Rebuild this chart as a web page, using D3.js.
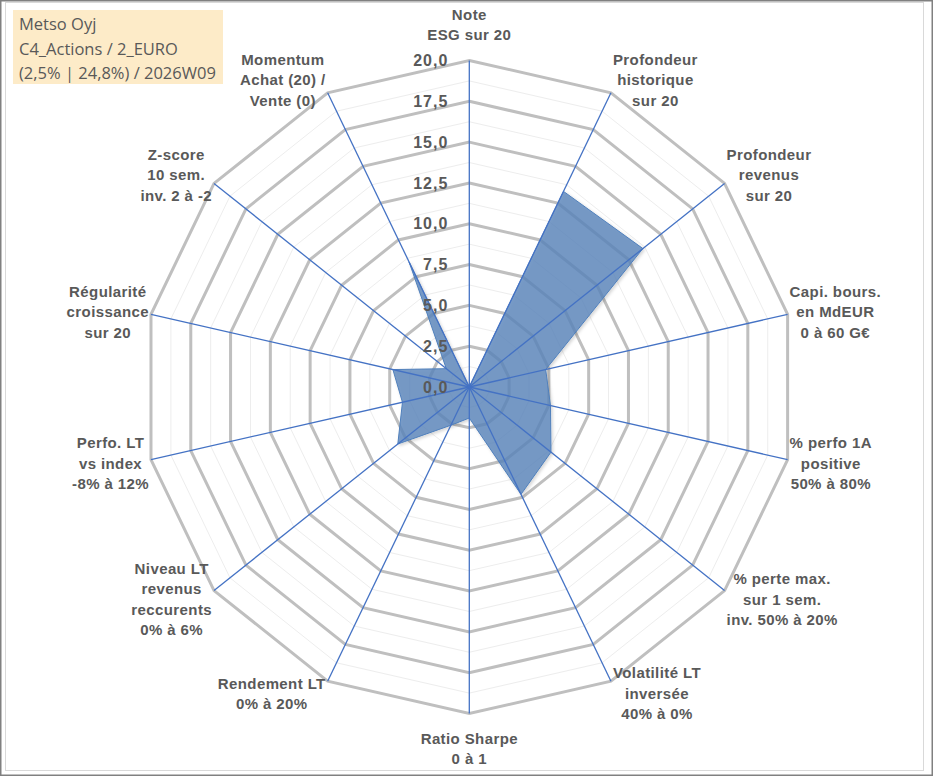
<!DOCTYPE html>
<html>
<head>
<meta charset="utf-8">
<script src="https://cdn.jsdelivr.net/npm/d3@7"></script>
<style>
  body { margin: 0; background: #fff; }
  svg { display: block; }
</style>
</head>
<body>
<svg id="chart" width="933" height="776"></svg>
<script>
// axis labels, clockwise from the top
const categories = [
    ["Note", "ESG sur 20"],
    ["Profondeur", "historique", "sur 20"],
    ["Profondeur", "revenus", "sur 20"],
    ["Capi. bours.", "en MdEUR", "0 à 60 G€"],
    ["% perfo 1A", "positive", "50% à 80%"],
    ["% perte max.", "sur 1 sem.", "inv. 50% à 20%"],
    ["Volatilité LT", "inversée", "40% à 0%"],
    ["Ratio Sharpe", "0 à 1"],
    ["Rendement LT", "0% à 20%"],
    ["Niveau LT", "revenus", "reccurents", "0% à 6%"],
    ["Perfo. LT", "vs index", "-8% à 12%"],
    ["Régularité", "croissance", "sur 20"],
    ["Z-score", "10 sem.", "inv. 2 à -2"],
    ["Momentum", "Achat (20) /", "Vente (0)"]
];
// scores (0 - 20)
const values = [0, 13.3, 13.6, 4.8, 5.1, 6.4, 7.3, 1.9, 2.6, 5.6, 4.2, 4.8, 1.8, 8.5];
const tickValues = [0, 2.5, 5, 7.5, 10, 12.5, 15, 17.5, 20];
const minorValues = [1.25, 3.75, 6.25, 8.75, 11.25, 13.75, 16.25, 18.75];
const titleLines = ["Metso Oyj", "C4_Actions / 2_EURO", "(2,5% | 24,8%) / 2026W09"];

const svg = d3.select("#chart");
const width = +svg.attr("width");
const height = +svg.attr("height");
const cx = 469.3, cy = 387, R = 326.5;
const n = categories.length;

const r = d3.scaleLinear().domain([0, 20]).range([0, R]);
const angle = i => i * 2 * Math.PI / n;
const fmt = v => d3.format(".1f")(v).replace(".", ",");

// frame
svg.append("rect").attr("x", 0.75).attr("y", 0.75)
    .attr("width", width - 1.5).attr("height", height - 1.5)
    .attr("fill", "#fff").attr("stroke", "#808080").attr("stroke-width", 1.5);
svg.append("rect").attr("x", 5.5).attr("y", 2.5)
    .attr("width", 918).attr("height", 768)
    .attr("fill", "none").attr("stroke", "#d9d9d9").attr("stroke-width", 1);

const defs = svg.append("defs");
defs.append("filter").attr("id", "shadow")
    .attr("x", "-10%").attr("y", "-10%").attr("width", "130%").attr("height", "130%")
  .append("feDropShadow")
    .attr("dx", 1.5).attr("dy", 1.5).attr("stdDeviation", 1.5)
    .attr("flood-color", "#000").attr("flood-opacity", 0.2);

const g = svg.append("g").attr("transform", `translate(${cx},${cy})`);

const ring = v => d3.lineRadial()
    .angle((d, i) => angle(i))
    .radius(() => r(v))
    .curve(d3.curveLinearClosed)(categories);

// minor rings
g.selectAll(".minor").data(minorValues).enter().append("path")
    .attr("d", d => ring(d))
    .attr("fill", "none").attr("stroke", "#ededed").attr("stroke-width", 1);

// major rings
g.selectAll(".major").data(tickValues.filter(v => v > 0)).enter().append("path")
    .attr("d", d => ring(d))
    .attr("fill", "none").attr("stroke", "#bfbfbf").attr("stroke-width", 3)
    .attr("stroke-linejoin", "miter");

// data area
const area = d3.lineRadial()
    .angle((d, i) => angle(i))
    .radius(d => r(d))
    .curve(d3.curveLinearClosed);

g.append("path")
    .datum(values)
    .attr("d", area)
    .attr("fill", "#5a86bb").attr("fill-opacity", 0.8)
    .attr("stroke", "#4f7fbb").attr("stroke-width", 1)
    .attr("filter", "url(#shadow)");

// spokes
g.selectAll(".spoke").data(categories).enter().append("line")
    .attr("x1", 0).attr("y1", 0)
    .attr("x2", (d, i) => r(20) * Math.sin(angle(i)))
    .attr("y2", (d, i) => -r(20) * Math.cos(angle(i)))
    .attr("stroke", "#4472c4").attr("stroke-width", 1.3);

// tick labels on the top axis
g.selectAll(".tick").data(tickValues).enter().append("text")
    .attr("x", -21)
    .attr("y", d => -r(d))
    .attr("dy", "0.35em")
    .attr("text-anchor", "end")
    .attr("font-family", "'Liberation Sans', Arial, sans-serif")
    .attr("font-weight", "bold")
    .attr("font-size", 16)
    .attr("letter-spacing", 1)
    .attr("fill", "#595959")
    .text(fmt);

// axis labels
const lineH = 20.5;
categories.forEach((lines, i) => {
    const a = angle(i);
    const ux = Math.sin(a), uy = -Math.cos(a);
    const ex = r(20) * ux, ey = r(20) * uy;
    const t = g.append("text")
        .attr("font-family", "'Liberation Sans', Arial, sans-serif")
        .attr("font-weight", "bold")
        .attr("font-size", 15)
        .attr("letter-spacing", 0.4)
        .attr("fill", "#595959")
        .attr("text-anchor", "middle");
    lines.forEach((s, k) => t.append("tspan").attr("x", 0).attr("dy", k ? lineH : 0).text(s));
    const w = d3.max(t.selectAll("tspan").nodes(), nd => nd.getComputedTextLength());
    const h = lines.length * lineH;
    let bx, by;
    if (Math.abs(ux) < 0.01) {
        bx = ex;
        by = ey + Math.sign(uy) * (h / 2 + (uy < 0 ? 16 : 14));
    } else {
        bx = ex + Math.sign(ux) * (w / 2 + 2);
        by = ey + uy * (uy < 0 ? 15 : 13);
    }
    const top = by - h / 2 + lineH / 2;
    t.attr("transform", `translate(${bx},${top})`).attr("dominant-baseline", "central");
    t.selectAll("tspan").attr("dominant-baseline", "central");
});

// title box
const box = svg.append("g").attr("transform", "translate(13,10)");
box.append("rect").attr("width", 210).attr("height", 74).attr("fill", "#fdebc8");
box.selectAll("text").data(titleLines).enter().append("text")
    .attr("x", 6)
    .attr("y", (d, i) => 20 + i * 24.5)
    .attr("font-family", "'Open Sans', sans-serif")
    .attr("font-size", 16.5)
    .attr("fill", "#595959")
    .text(d => d);
</script>
</body>
</html>
